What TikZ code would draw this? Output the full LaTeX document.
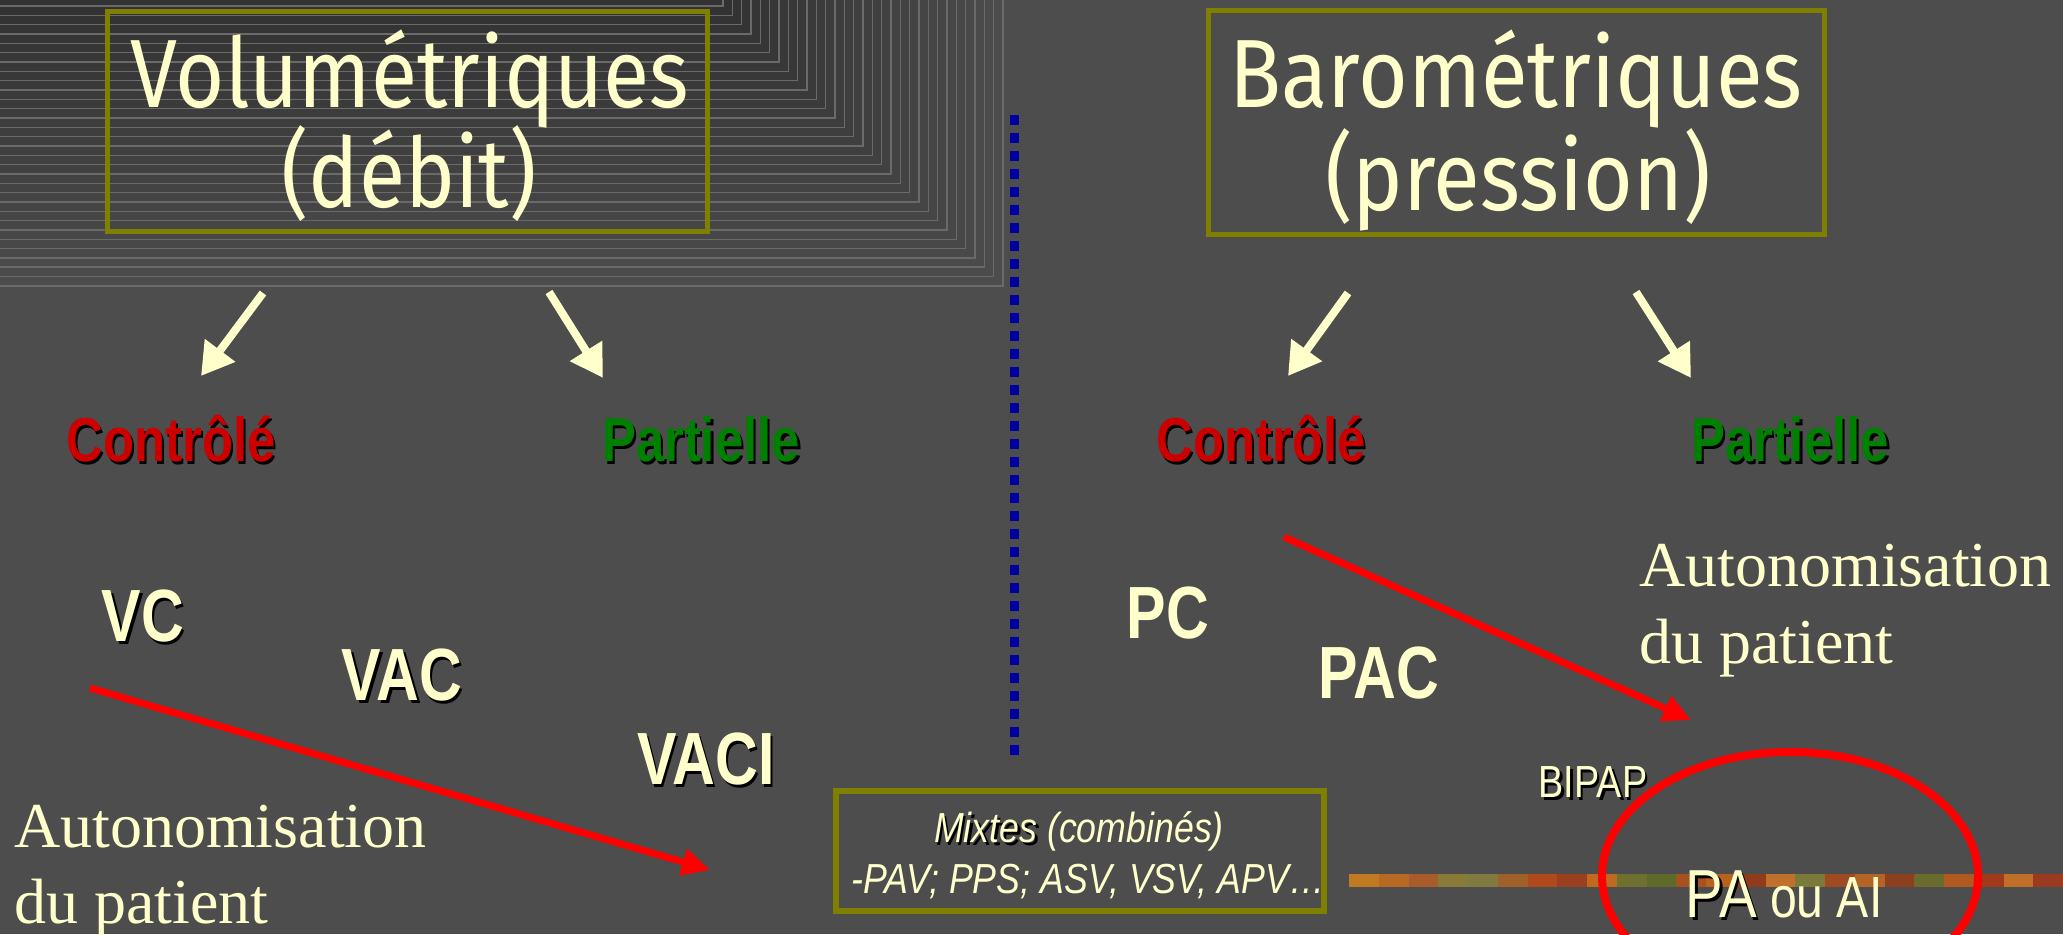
\documentclass[tikz,border=0pt]{standalone}
\usepackage{fontspec}
\usepackage{graphicx}
\setmainfont{Liberation Serif}
\newfontfamily\arialf{Liberation Sans}
\newfontfamily\titlef{Fira Sans}
\usetikzlibrary{arrows.meta,shapes.geometric}
\definecolor{bg}{HTML}{4D4D4D}
\definecolor{cream}{HTML}{FFFFCC}
\definecolor{olivebox}{HTML}{808000}
\definecolor{ctrlred}{HTML}{CC0000}
\definecolor{partgreen}{HTML}{008000}
\definecolor{dotblue}{HTML}{0000A0}
\definecolor{arrred}{HTML}{FF0000}
\definecolor{stripe}{HTML}{6A6A6A}
\newcommand\shad[1]{\rlap{\kern3pt\raisebox{-3pt}{\textcolor{black}{#1}}}#1}
\tikzset{
  obox/.style={draw=olivebox, inner sep=0pt},
  titletext/.style={inner sep=0pt, anchor=base, text=cream, font=\titlef\fontsize{97}{100}\selectfont},
  boldlab/.style={inner sep=0pt, anchor=base, font=\arialf\bfseries\fontsize{62}{62}\selectfont},
  bigmode/.style={inner sep=0pt, anchor=base, text=cream, font=\arialf\bfseries\fontsize{74}{74}\selectfont},
  autotext/.style={inner sep=0pt, anchor=base west, text=cream, font=\fontsize{64}{64}\selectfont},
  mixtext/.style={inner sep=0pt, anchor=base, text=cream, font=\arialf\itshape\fontsize{42}{42}\selectfont},
  yarrow/.style={cream, line width=8pt, -{Triangle[length=32pt,width=36pt]}},
  rarrow/.style={arrred, line width=7pt, -{Triangle[length=28pt,width=26pt]}}
}
\begin{document}
\begin{tikzpicture}[x=1pt,y=-1pt]
\useasboundingbox (0,0) rectangle (2063,934);
\fill[bg] (0,0) rectangle (2063,934);
% stepped background in the upper left
\foreach \i in {30,29,...,0} {
  \pgfmathtruncatemacro\g{50+27*\i/31}
  \definecolor{band}{RGB}{\g,\g,\g}
  \fill[band] (0,0) rectangle ({723+9.33*\i},{6+9.33*\i});
  \draw[stripe, line width=1.5pt] (0,{6+9.33*\i}) -| ({723+9.33*\i},0);
}
% title boxes
\node[obox, line width=5pt, minimum width=600, minimum height=220] (volbox) at (407.5,121.5) {};
\node[titletext] (vol1) at (410,107) {\scalebox{0.87}[1]{Volumétriques}};
\node[titletext] (vol2) at (409,207) {\scalebox{0.87}[1]{(débit)}};
\node[obox, line width=5pt, minimum width=616, minimum height=224] (barbox) at (1516.5,122.5) {};
\node[titletext] (bar1) at (1516,107) {\scalebox{0.88}[1]{Barométriques}};
\node[titletext] (bar2) at (1518,210) {\scalebox{0.88}[1]{(pression)}};
% dotted separator
\draw[dotblue, line width=9pt, dash pattern=on 10pt off 8pt] (1014,115) -- (1014,757);
% yellow arrows
\coordinate (vaL0) at (263,293); \coordinate (vaL1) at (201,376);
\coordinate (vaR0) at (549,292); \coordinate (vaR1) at (603,378);
\coordinate (baL0) at (1348,293); \coordinate (baL1) at (1288,376);
\coordinate (baR0) at (1636,292); \coordinate (baR1) at (1691,378);
\draw[yarrow] (vaL0) -- (vaL1);
\draw[yarrow] (vaR0) -- (vaR1);
\draw[yarrow] (baL0) -- (baL1);
\draw[yarrow] (baR0) -- (baR1);
% category labels
\node[boldlab, text=ctrlred] (ctrlL) at (171,461) {\scalebox{0.82}[1]{\shad{Contrôlé}}};
\node[boldlab, text=partgreen] (partL) at (701,461) {\scalebox{0.82}[1]{\shad{Partielle}}};
\node[boldlab, text=ctrlred] (ctrlR) at (1261,461) {\scalebox{0.82}[1]{\shad{Contrôlé}}};
\node[boldlab, text=partgreen] (partR) at (1790,461) {\scalebox{0.82}[1]{\shad{Partielle}}};
% modes
\node[bigmode] (vc) at (143,641) {\scalebox{0.8}[1]{\shad{VC}}};
\node[bigmode] (vac) at (402,700) {\scalebox{0.8}[1]{\shad{VAC}}};
\node[bigmode] (vaci) at (706,784) {\scalebox{0.8}[1]{\shad{VACI}}};
\node[bigmode] (pc) at (1168,638) {\scalebox{0.8}[1]{PC}};
\node[bigmode] (pac) at (1379,698) {\scalebox{0.8}[1]{PAC}};
% red arrows
\coordinate (raL0) at (90,688); \coordinate (raL1) at (710,870);
\coordinate (raR0) at (1284,537); \coordinate (raR1) at (1691,720);
\draw[rarrow] (raL0) -- (raL1);
\draw[rarrow] (raR0) -- (raR1);
% autonomisation texts
\node[autotext] (autoL1) at (14,847) {Autonomisation};
\node[autotext] (autoL2) at (14,923) {du patient};
\node[autotext] (autoR1) at (1639,586) {Autonomisation};
\node[autotext] (autoR2) at (1639,663) {du patient};
% mixtes box
\node[obox, line width=6pt, minimum width=488, minimum height=120] (mixbox) at (1080,851) {};
\node[mixtext] (mix1) at (1079,842) {\scalebox{0.85}[1]{\shad{Mixtes} (combinés)}};
\node[mixtext] (mix2) at (1088,893) {\scalebox{0.85}[1]{-PAV; PPS; ASV, VSV, APV…}};
% textured bar
\foreach \c [count=\k from 0] in {C07A22,B86A24,A85C2A,8A7A3A,7E7A40,A0602A,B04A1C,9A4020,C06A20,6E7030,5E6A2A,A8501E,B8621E,903C1A,C0702A,7A7A3A,A04A22,B46424,8C4020,6A6C2E,B05A22,A03A1A,C06E28,9A3A20}
  {\definecolor{seg}{HTML}{\c}
   \fill[seg] ({1349+29.75*\k},874) rectangle ({1349+29.75*(\k+1)},887);}
% circle and final labels
\node[draw=arrred, line width=8pt, ellipse, minimum width=376, minimum height=248, inner sep=0pt] (circ) at (1790,876) {};
\node[inner sep=0pt, anchor=base, text=cream, font=\arialf\fontsize{45}{45}\selectfont] (bipap) at (1593,797) {\scalebox{0.84}[1]{\shad{BIPAP}}};
\node[inner sep=0pt, anchor=base, text=cream, font=\arialf\fontsize{58}{58}\selectfont] (paai) at (1784,917) {\scalebox{0.83}[1]{{\fontsize{68}{68}\selectfont\shad{PA}} ou AI}};
\end{tikzpicture}
\end{document}
